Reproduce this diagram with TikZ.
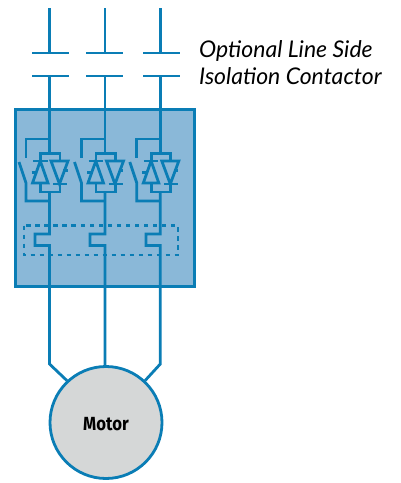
\documentclass[tikz,border=0pt]{standalone}
\usepackage{fontspec}
\setmainfont{Open Sans}
\newfontfamily\capfont{Lato}
\newfontfamily\motfont{Fira Sans}
\definecolor{wire}{HTML}{0A7DB5}
\definecolor{panel}{HTML}{8AB8D8}
\definecolor{motorfill}{HTML}{D5D7D7}
\tikzset{
  wireline/.style={draw=wire,line width=2.8pt,line join=miter},
  panelbox/.style={draw=wire,line width=3pt,fill=panel},
  dashbox/.style={draw=wire,line width=2.6pt,dash pattern=on 4.5pt off 4.5pt},
  motorcircle/.style={circle,draw=wire,line width=2.8pt,fill=motorfill,minimum size=112pt,inner sep=0pt},
  motorlabel/.style={font=\motfont\bfseries\fontsize{19}{20}\selectfont,text=black,xscale=.88},
  caption/.style={font=\capfont\itshape\fontsize{23}{26}\selectfont,text=black,anchor=base west,inner sep=0pt},
}
\begin{document}
\begin{tikzpicture}[x=1pt,y=-1pt]
\useasboundingbox (0,0) rectangle (401,483);
\draw[panelbox] (15,109) rectangle (194,286);
\node[motorcircle] (motor) at (106,422.5) {};
\node[motorlabel] (mlabel) at (106,424) {Motor};
\node[caption] (cap1) at (199,57) {Optional Line Side};
\node[caption] (cap2) at (199,84) {Isolation Contactor};
\foreach \i/\x/\bar/\sw/\jog/\ang in {a/49.5/50.5/0/35/133,b/105/104.5/55.5/90/91,c/160.3/161.5/110.8/146/47}{
  \coordinate (top\i) at (\x,8);
  \coordinate (upper\i) at (\x,53);
  \coordinate (lower\i) at (\x,76);
  \coordinate (in\i) at (\x,154);
  \coordinate (outa\i) at (\x,192);
  \coordinate (lead\i) at (\x,364);
  \draw[wireline] (top\i) -- (upper\i);
  \draw[wireline] (\bar-18.5,53) -- (\bar+18.5,53);
  \draw[wireline] (\bar-18.5,76) -- (\bar+18.5,76);
  \draw[wireline] (lower\i) -- (in\i);
  % bypass contact
  \draw[wireline] (\x,139) -- (\x-23.5,139) -- (\x-23.5,158);
  \draw[wireline] (\x-30.5,162) -- (\x-23.5,183) -- (\x-23.5,201) -- (\x,201);
  % SCR pair
  \begin{scope}[xshift=\sw pt]
    \draw[wireline] (40.5,161) -- (40.5,153.5) -- (60,153.5) -- (60,161);
    \draw[wireline] (40.5,184) -- (40.5,192) -- (60,192) -- (60,184);
    \draw[wireline] (33,161) -- (47.5,161);
    \draw[wireline] (40.3,161) -- (32.5,183) -- (48,183) -- cycle;
    \draw[wireline] (51,161) -- (68,161) -- (59.5,184) -- cycle;
    \draw[wireline] (53,184) -- (67,184);
    \draw[wireline] (31.5,172.5) -- (36.5,172.5);
    \draw[wireline] (63,170.5) -- (67.5,170.5);
  \end{scope}
  % overload jog and motor lead
  \draw[wireline] (outa\i) -- (\x,234) -- (\jog,234) -- (\jog,245.5) -- (\x,245.5) -- (lead\i) -- (motor.\ang);
}
\draw[dashbox] (24,225.5) rectangle (178,255);
\end{tikzpicture}
\end{document}
